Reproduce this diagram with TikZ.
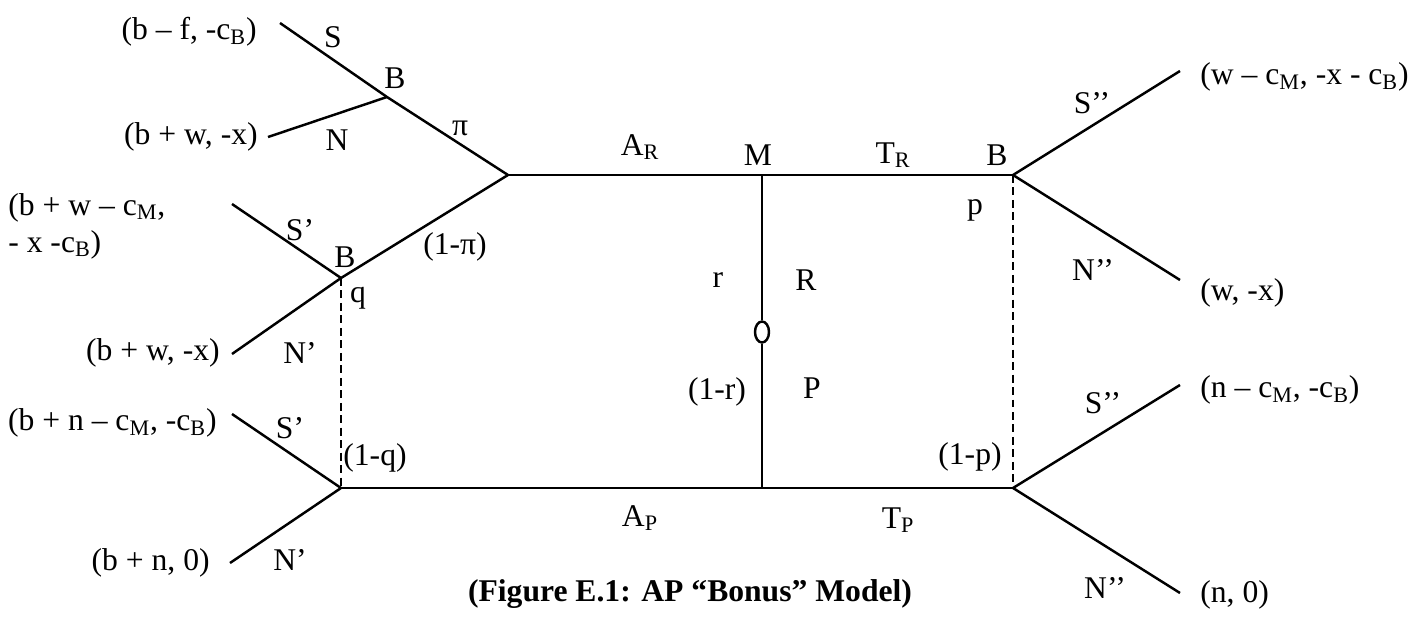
\documentclass[tikz,border=0pt]{standalone}
\usepackage{fontspec}
\setmainfont{Liberation Serif}
\usepackage{tikz}
\usetikzlibrary{shapes.geometric, positioning}

\begin{document}
\begin{tikzpicture}[
    x=0.02cm, y=-0.02cm,
    branch/.style={line width=1.4pt},
    info/.style={line width=1.4pt, dash pattern=on 4.5pt off 2.6pt},
    lab/.style={inner sep=0pt, font=\fontsize{18}{21}\selectfont},
    payl/.style={lab, anchor=east},
    payr/.style={lab, anchor=west},
    chance/.style={ellipse, draw, line width=1.4pt, fill=white, minimum width=0.28cm, minimum height=0.42cm, inner sep=0pt},
]
    \useasboundingbox (0,0) rectangle (1424,616);

    % Decision points
    \coordinate (root) at (508,175);
    \coordinate (bt) at (387,97);
    \coordinate (bq) at (341,278);
    \coordinate (bq2) at (341,488);
    \coordinate (m) at (762,175);
    \coordinate (mp) at (762,488);
    \coordinate (br) at (1013,175);
    \coordinate (bp) at (1013,488);
    \node[chance] (nat) at (762,332) {};

    % Leaves
    \coordinate (ls1) at (280,23);
    \coordinate (ln1) at (268,137);
    \coordinate (ls2) at (232,204);
    \coordinate (ln2) at (232,354);
    \coordinate (ls3) at (232,414);
    \coordinate (ln3) at (230,563);
    \coordinate (rs1) at (1180,71);
    \coordinate (rn1) at (1180,280);
    \coordinate (rs2) at (1180,385);
    \coordinate (rn2) at (1180,593);

    % Branches
    \draw[branch] (ls1) -- (bt) -- (root) -- (bq) -- (ln2);
    \draw[branch] (ln1) -- (bt);
    \draw[branch] (ls2) -- (bq);
    \draw[branch] (ls3) -- (bq2) -- (ln3);
    \draw[branch] (root) -- (m) -- (br);
    \draw[branch] (bq2) -- (mp) -- (bp);
    \draw[branch] (m) -- (nat) -- (mp);
    \draw[branch] (rs1) -- (br) -- (rn1);
    \draw[branch] (rs2) -- (bp) -- (rn2);
    \draw[info] (bq) -- (bq2);
    \draw[info] (br) -- (bp);

    % Payoffs, left
    \node[payl] (p1) at (257,32) {(b – f, -c\textsubscript{B})};
    \node[payl] (p2) at (258,137) {(b + w, -x)};
    \node[lab, anchor=west, align=left] (p3) at (8,226) {(b + w – c\textsubscript{M},\\- x -c\textsubscript{B})};
    \node[payl] (p4) at (220,353) {(b + w, -x)};
    \node[payl] (p5) at (217,423) {(b + n – c\textsubscript{M}, -c\textsubscript{B})};
    \node[payl] (p6) at (210,563) {(b + n, 0)};

    % Payoffs, right
    \node[payr] (p7) at (1200,77) {(w – c\textsubscript{M}, -x - c\textsubscript{B})};
    \node[payr] (p8) at (1200,293) {(w, -x)};
    \node[payr] (p9) at (1200,390) {(n – c\textsubscript{M}, -c\textsubscript{B})};
    \node[payr] (p10) at (1200,595) {(n, 0)};

    % Branch labels
    \node[lab] (s1) at (333,37) {S};
    \node[lab] (b1) at (395,78) {B};
    \node[lab] (n1) at (337,140) {N};
    \node[lab] (pi1) at (460,128) {π};
    \node[lab] (s2) at (300,230) {S’};
    \node[lab] (b2) at (345,257) {B};
    \node[lab] (pi2) at (455,247) {(1-π)};
    \node[lab] (q1) at (358,298) {q};
    \node[lab] (n2) at (300,353) {N’};
    \node[lab] (s3) at (290,428) {S’};
    \node[lab] (q2) at (375,458) {(1-q)};
    \node[lab] (n3) at (290,560) {N’};
    \node[lab] (ar) at (640,147) {A\textsubscript{R}};
    \node[lab] (mm) at (758,155) {M};
    \node[lab] (tr) at (893,155) {T\textsubscript{R}};
    \node[lab] (b3) at (997,155) {B};
    \node[lab] (p1lab) at (975,210) {p};
    \node[lab] (r1) at (718,280) {r};
    \node[lab] (rr) at (806,280) {R};
    \node[lab] (r2) at (717,392) {(1-r)};
    \node[lab] (pp) at (812,388) {P};
    \node[lab] (p2lab) at (970,457) {(1-p)};
    \node[lab] (ap) at (640,518) {A\textsubscript{P}};
    \node[lab] (tp) at (898,520) {T\textsubscript{P}};
    \node[lab] (s4) at (1092,103) {S’’};
    \node[lab] (n4) at (1093,270) {N’’};
    \node[lab] (s5) at (1103,403) {S’’};
    \node[lab] (n5) at (1105,588) {N’’};

    % Caption
    \node[lab, font=\fontsize{18}{21}\selectfont\bfseries] (cap) at (690,594) {(Figure E.1: AP “Bonus” Model)};

\end{tikzpicture}
\end{document}
